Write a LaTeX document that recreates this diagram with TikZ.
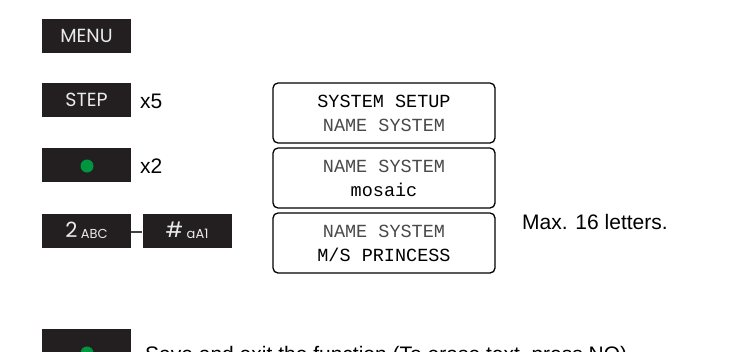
\documentclass[tikz,border=0pt]{standalone}
\usepackage{fontspec}
\setmainfont{Liberation Sans}
\newfontfamily\btnfont{Poppins}
\newfontfamily\lcdfont{Liberation Mono}
\definecolor{btnfill}{HTML}{231F20}
\definecolor{btntext}{HTML}{EAEAEA}
\definecolor{dotgreen}{HTML}{00963F}
\definecolor{lcdgray}{HTML}{4A4A4A}
\begin{document}
\begin{tikzpicture}[x=1pt,y=-1pt,
  button/.style={fill=btnfill,draw=none,minimum width=89pt,minimum height=34pt,inner sep=0pt,
    text=btntext,font=\btnfont\fontsize{19}{22}\selectfont},
  lcd/.style={draw=black,line width=1.3pt,rounded corners=5pt,minimum width=222pt,minimum height=60pt,
    inner sep=0pt,align=center,font=\lcdfont\fontsize{18.5}{24}\selectfont},
  label/.style={anchor=west,inner sep=0pt,font=\fontsize{21}{25}\selectfont,text=black},
  gdot/.style={circle,fill=dotgreen,minimum size=13pt,inner sep=0pt}]
\clip (0,0) rectangle (738,351);
\useasboundingbox (0,0) rectangle (738,351);
\fill[white] (0,0) rectangle (738,351);
% buttons
\node[button] (menu) at (86.5,36) {MENU};
\node[button] (step) at (86.5,100) {STEP};
\node[label] (x5) at (140,101) {x5};
\node[button] (ok1) at (86.5,165) {};
\node[gdot] (dot1) at (87,166) {};
\node[label] (x2) at (140,166) {x2};
\node[button] (k2) at (86.5,230.5) {\fontsize{21}{22}\selectfont 2\,\raisebox{-1pt}{\fontsize{13}{13}\selectfont ABC}};
\node[button] (khash) at (187,230.5) {\fontsize{21}{22}\selectfont \#\,\raisebox{-1pt}{\fontsize{13}{13}\selectfont aA1}};
\path (k2.east) ++(0,1.5) coordinate (c1) (khash.west) ++(0,1.5) coordinate (c2);
\draw[line width=1.2pt,draw=btnfill!85] (c1) -- (c2);
% displays
\node[lcd] (d1) at (384,113) {\textcolor{black}{SYSTEM SETUP}\\\textcolor{lcdgray}{NAME SYSTEM}};
\node[lcd] (d2) at (384,178) {\textcolor{lcdgray}{NAME SYSTEM}\\\textcolor{black}{mosaic}};
\node[lcd] (d3) at (384,243) {\textcolor{lcdgray}{NAME SYSTEM}\\\textcolor{black}{M/S PRINCESS}};
\node[label] (max) at (522,222) {Max. 16 letters.};
% bottom
\node[button] (ok2) at (86.5,345.5) {};
\node[gdot] (dot2) at (87,353) {};
\node[label,anchor=base west] (save) at (145,361) {Save and exit the function (To erase text, press NO).};
\end{tikzpicture}
\end{document}
